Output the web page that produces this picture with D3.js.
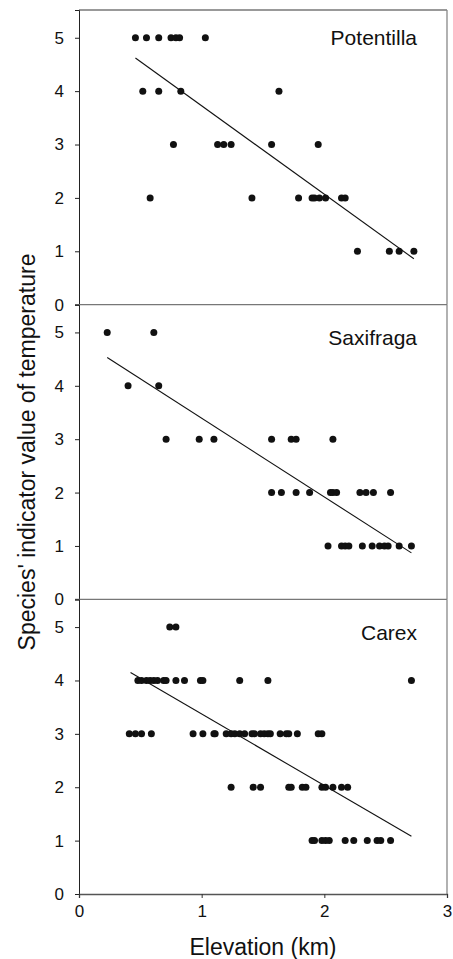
<!DOCTYPE html>
<html>
<head>
<meta charset="utf-8">
<script src="https://d3js.org/d3.v7.min.js"></script>
<style>
  body { margin: 0; background: #fff; }
  text { font-family: "Liberation Sans", Arial, sans-serif; fill: #111; }
</style>
</head>
<body>
<script>
// species' indicator value (y) for each elevation (km, x), grouped by value
const potentillaRows = [
  [5, [0.46, 0.55, 0.65, 0.75, 0.79, 0.82, 1.03]],
  [4, [0.52, 0.65, 0.83, 1.63]],
  [3, [0.77, 1.13, 1.18, 1.24, 1.57, 1.95]],
  [2, [0.58, 1.41, 1.79, 1.90, 1.92, 1.96, 2.01, 2.14, 2.17]],
  [1, [2.27, 2.53, 2.61, 2.73]]
];
const saxifragaRows = [
  [5, [0.23, 0.61]],
  [4, [0.40, 0.65]],
  [3, [0.71, 0.98, 1.10, 1.57, 1.73, 1.77, 2.07]],
  [2, [1.57, 1.65, 1.77, 1.88, 2.05, 2.07, 2.10, 2.29, 2.34, 2.40, 2.54]],
  [1, [2.03, 2.14, 2.17, 2.20, 2.31, 2.39, 2.45, 2.49, 2.52, 2.61, 2.71]]
];
const carexRows = [
  [5, [0.74, 0.79]],
  [4, [0.48, 0.51, 0.55, 0.58, 0.61, 0.64, 0.69, 0.71, 0.79, 0.86, 0.99, 1.01, 1.31, 1.54, 2.71]],
  [3, [0.41, 0.46, 0.51, 0.59, 0.93, 1.01, 1.10, 1.11, 1.20, 1.24, 1.27, 1.31, 1.35, 1.41, 1.43,
       1.48, 1.51, 1.54, 1.56, 1.64, 1.69, 1.71, 1.78, 1.95, 1.98]],
  [2, [1.24, 1.42, 1.48, 1.71, 1.73, 1.82, 1.85, 1.98, 2.01, 2.07, 2.14, 2.19]],
  [1, [1.90, 1.92, 1.98, 2.01, 2.04, 2.17, 2.24, 2.35, 2.43, 2.46, 2.54]]
];
// regression line end points [elevation, value]
const potentillaFit = [[0.46, 4.62], [2.73, 0.86]];
const saxifragaFit = [[0.23, 4.53], [2.71, 0.87]];
const carexFit = [[0.42, 4.15], [2.71, 1.08]];

const speciesNames = ["Potentilla", "Saxifraga", "Carex"];
const speciesRows = [potentillaRows, saxifragaRows, carexRows];
const speciesFits = [potentillaFit, saxifragaFit, carexFit];

const xTicks = [0, 1, 2, 3];
const yTicks = [0, 1, 2, 3, 4, 5];

const width = 453, height = 959;
const mLeft = 79, mRight = 447, mTop = 10, mBottom = 894;
const panelH = (mBottom - mTop) / 3;
const labelDy = [35, 40, 41];

const svg = d3.select("body").append("svg")
  .attr("width", width)
  .attr("height", height);

const x = d3.scaleLinear().domain([0, 3]).range([mLeft, mRight]);

speciesNames.forEach((name, i) => {
  const y0 = mTop + i * panelH;
  const y = d3.scaleLinear().domain([0, 5.52]).range([y0 + panelH, y0]);
  const g = svg.append("g");

  // frame: top and right in grey
  g.append("line")
    .attr("x1", i === 0 ? mLeft : mLeft - 4).attr("x2", mRight)
    .attr("y1", y0).attr("y2", y0)
    .attr("stroke", "#777").attr("stroke-width", 1.3);
  g.append("line")
    .attr("x1", mRight).attr("x2", mRight)
    .attr("y1", y0).attr("y2", y0 + panelH)
    .attr("stroke", "#888").attr("stroke-width", 1.3);

  // y axis
  const yAxis = g.append("g")
    .attr("transform", `translate(${mLeft},0)`)
    .call(d3.axisLeft(y).tickValues(yTicks)
      .tickSize(4).tickPadding(11).tickFormat(d3.format("d")));
  yAxis.select(".domain").attr("stroke", "#222");
  yAxis.selectAll(".tick line").attr("stroke", "#222");
  yAxis.selectAll("text").attr("font-size", 17).attr("font-family", "Liberation Sans, Arial, sans-serif").attr("fill", "#111");

  // points
  const pts = [];
  speciesRows[i].forEach(([v, xs]) => xs.forEach(e => pts.push([e, v])));
  g.selectAll("circle").data(pts).enter().append("circle")
    .attr("cx", d => x(d[0]))
    .attr("cy", d => y(d[1]))
    .attr("r", 3.5)
    .attr("fill", "#111");

  // fitted line
  g.append("path")
    .datum(speciesFits[i])
    .attr("d", d3.line().x(d => x(d[0])).y(d => y(d[1])))
    .attr("fill", "none")
    .attr("stroke", "#111")
    .attr("stroke-width", 1.1);

  g.append("text")
    .attr("x", 417).attr("y", y0 + labelDy[i])
    .attr("text-anchor", "end")
    .attr("font-size", 21)
    .text(name);
});

// x axis at the bottom
const xAxis = svg.append("g")
  .attr("transform", `translate(0,${mBottom})`)
  .call(d3.axisBottom(x).tickValues(xTicks).tickSize(4).tickPadding(7).tickFormat(d3.format("d")));
xAxis.select(".domain").attr("stroke", "#555").attr("stroke-width", 1.3);
xAxis.selectAll(".tick line").attr("stroke", "#333");
xAxis.selectAll("text").attr("font-size", 17).attr("font-family", "Liberation Sans, Arial, sans-serif").attr("fill", "#111");

svg.append("text")
  .attr("x", (mLeft + mRight) / 2).attr("y", 955)
  .attr("text-anchor", "middle")
  .attr("font-size", 23)
  .text("Elevation (km)");

svg.append("text")
  .attr("transform", `translate(35,${(mTop + mBottom) / 2}) rotate(-90)`)
  .attr("text-anchor", "middle")
  .attr("font-size", 23)
  .text("Species' indicator value of temperature");
</script>
</body>
</html>
